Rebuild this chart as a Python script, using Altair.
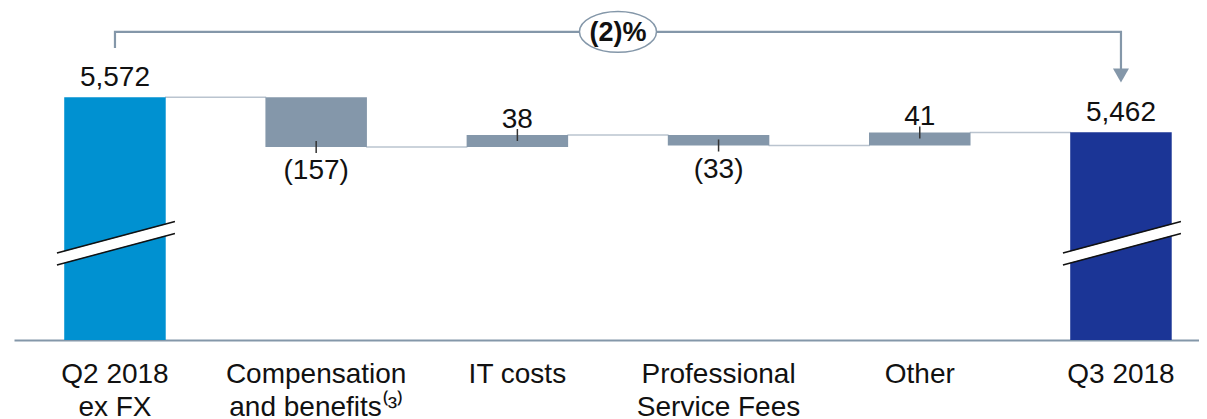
import altair as alt
import pandas as pd

# ---- data ----
categories = ["Q2 2018\nex FX", "Compensation\nand benefits⁽³⁾", "IT costs",
              "Professional\nService Fees", "Other", "Q3 2018"]
values = [5572, -157, 38, -33, 41, 5462]
kinds = ["start", "delta", "delta", "delta", "delta", "end"]
value_labels = ["5,572", "(157)", "38", "(33)", "41", "5,462"]
change_label = "(2)%"

# ---- build the waterfall table ----
rows = []
running = 0
for i, (c, v, k, lab) in enumerate(zip(categories, values, kinds, value_labels)):
    if k == "delta":
        s, e = running, running + v
    else:
        s, e = 0, v
    running = e
    rows.append(dict(cat=c, start=s, end=e, kind=k, label=lab, idx=i,
                     sign=("total" if k != "delta" else ("pos" if v > 0 else "neg"))))
df = pd.DataFrame(rows)

conn = pd.DataFrame([dict(cat=categories[i], nxt=categories[i + 1], level=rows[i]["end"])
                     for i in range(len(categories) - 1)])

# decorations (axis-break marks and bracket), in value units of the broken axis
brk = pd.DataFrame([dict(cat=categories[0], lo=5063.5, hi=5162.4),
                    dict(cat=categories[-1], lo=5063.5, hi=5162.4)])
bracket = pd.DataFrame([
    dict(cat=categories[0], y=5726, o=0),
    dict(cat=categories[0], y=5777, o=1),
    dict(cat=categories[-1], y=5777, o=2),
    dict(cat=categories[-1], y=5660, o=3),
])
arrow = pd.DataFrame([dict(cat=categories[-1], y=5640)])
badge = pd.DataFrame([dict(cat=categories[2], y=5777, text=change_label)])

FONT = "Liberation Sans"
GREY = "#8497A9"
YSCALE = alt.Scale(domain=[4809, 5852], nice=False, zero=False)


def X(field="cat"):
    return alt.X(f"{field}:N", sort=categories,
                 scale=alt.Scale(paddingInner=0.4955, paddingOuter=0.1926, align=0.648),
                 axis=alt.Axis(title=None, labelAngle=0, labelFontSize=28, labelFont=FONT,
                               labelColor="#111111", labelPadding=20, ticks=False,
                               domainColor=GREY, domainWidth=2, grid=False,
                               labelExpr="split(datum.label, '\\n')", labelLineHeight=33,
                               labelLimit=400, labelOverlap=False))


base = alt.Chart(df)

bars = base.mark_bar(clip=True).encode(
    x=X(),
    y=alt.Y("start:Q", scale=YSCALE, axis=None),
    y2="end:Q",
    color=alt.Color("kind:N", scale=alt.Scale(domain=["start", "delta", "end"],
                                              range=["#0091D1", "#8497AA", "#1B3596"]),
                    legend=None),
)

connectors = alt.Chart(conn).mark_rule(color="#BAC4CF", strokeWidth=1.5,
                                       xOffset=50, x2Offset=-50).encode(
    x=X(), x2="nxt:N", y=alt.Y("level:Q", scale=YSCALE, axis=None))

ticks = base.transform_filter("datum.kind == 'delta'").mark_rule(
    color="#333333", strokeWidth=1.5, yOffset=-6, y2Offset=6).encode(
    x=X(), y=alt.Y("end:Q", scale=YSCALE, axis=None), y2="end:Q")

lab_total = base.transform_filter("datum.sign == 'total'").mark_text(
    font=FONT, fontSize=28, color="#111111", baseline="alphabetic", dy=-11).encode(
    x=X(), y=alt.Y("end:Q", scale=YSCALE, axis=None), text="label:N")

lab_pos = base.transform_filter("datum.sign == 'pos'").mark_text(
    font=FONT, fontSize=28, color="#111111", baseline="alphabetic", dy=-7).encode(
    x=X(), y=alt.Y("end:Q", scale=YSCALE, axis=None), text="label:N")

lab_neg = base.transform_filter("datum.sign == 'neg'").mark_text(
    font=FONT, fontSize=28, color="#111111", baseline="top", dy=10).encode(
    x=X(), y=alt.Y("end:Q", scale=YSCALE, axis=None), text="label:N")

brk_white = alt.Chart(brk).mark_rule(color="white", strokeWidth=11, strokeCap="butt",
                                     xOffset=-58, x2Offset=60).encode(
    x=X(), x2="cat:N", y=alt.Y("lo:Q", scale=YSCALE, axis=None), y2="hi:Q")
brk_top = alt.Chart(brk).mark_rule(color="#111111", strokeWidth=1.5,
                                   xOffset=-58, x2Offset=60, yOffset=-6, y2Offset=-6).encode(
    x=X(), x2="cat:N", y=alt.Y("lo:Q", scale=YSCALE, axis=None), y2="hi:Q")
brk_bot = alt.Chart(brk).mark_rule(color="#111111", strokeWidth=1.5,
                                   xOffset=-58, x2Offset=60, yOffset=6, y2Offset=6).encode(
    x=X(), x2="cat:N", y=alt.Y("lo:Q", scale=YSCALE, axis=None), y2="hi:Q")

bracket_line = alt.Chart(bracket).mark_line(color=GREY, strokeWidth=2.2).encode(
    x=X(), y=alt.Y("y:Q", scale=YSCALE, axis=None), order="o:Q")

arrow_head = alt.Chart(arrow).mark_point(shape="triangle-down", size=256, filled=True,
                                         fill=GREY, opacity=1, strokeWidth=0).encode(
    x=X(), y=alt.Y("y:Q", scale=YSCALE, axis=None))

ELLIPSE = ("M -1 0 C -1 -0.2927 -0.5523 -0.53 0 -0.53 C 0.5523 -0.53 1 -0.2927 1 0 "
           "C 1 0.2927 0.5523 0.53 0 0.53 C -0.5523 0.53 -1 0.2927 -1 0 Z")
badge_shape = alt.Chart(badge).mark_point(shape=ELLIPSE, size=5929, filled=True, fill="white",
                                          stroke=GREY, strokeWidth=1.5, opacity=1,
                                          xOffset=100.6).encode(
    x=X(), y=alt.Y("y:Q", scale=YSCALE, axis=None))
badge_text = alt.Chart(badge).mark_text(font=FONT, fontSize=27, fontWeight="bold",
                                        color="#111111", baseline="middle", dy=1,
                                        xOffset=100.6).encode(
    x=X(), y=alt.Y("y:Q", scale=YSCALE, axis=None), text="text:N")

chart = alt.layer(
    connectors, bars, ticks, brk_white, brk_top, brk_bot,
    lab_total, lab_pos, lab_neg,
    bracket_line, arrow_head, badge_shape, badge_text,
).properties(
    width=1185, height=332,
    padding={"left": 6, "top": 0, "right": 0, "bottom": 80},
    autosize=alt.AutoSizeParams(type="none"),
).configure_view(stroke=None)

chart.save("out.html", embed_options={"renderer": "svg", "actions": False})
